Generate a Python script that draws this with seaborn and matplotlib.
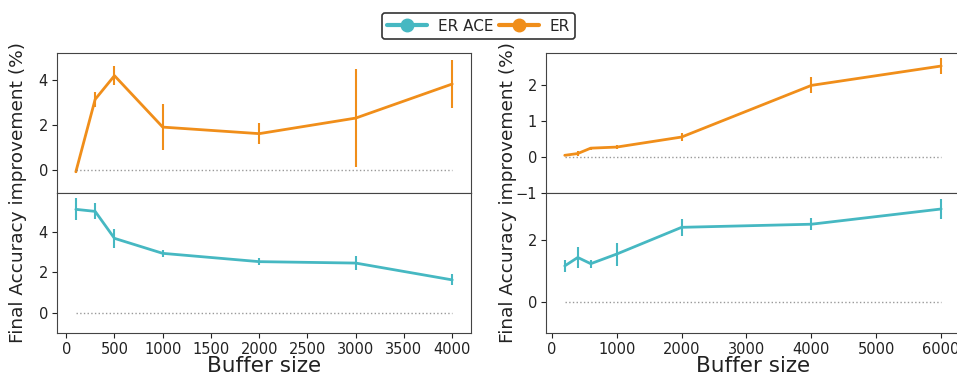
import numpy as np
import pandas as pd
import matplotlib
matplotlib.use("Agg")
import matplotlib.pyplot as plt
from matplotlib.lines import Line2D
import seaborn as sns

# left experiment
left_sizes = [100, 300, 500, 1000, 2000, 3000, 4000]
left_er = [-0.06, 3.15, 4.2, 1.92, 1.63, 2.32, 3.83]
left_er_err = [0.05, 0.32, 0.42, 1.02, 0.46, 2.18, 1.07]
left_ace = [5.1, 5.0, 3.67, 2.93, 2.52, 2.45, 1.62]
left_ace_err = [0.54, 0.39, 0.48, 0.17, 0.17, 0.33, 0.27]

# right experiment
right_sizes = [200, 400, 600, 1000, 2000, 4000, 6000]
right_er = [0.05, 0.1, 0.25, 0.28, 0.56, 2.0, 2.54]
right_er_err = [0.03, 0.06, 0.04, 0.05, 0.12, 0.22, 0.22]
right_ace = [1.16, 1.43, 1.23, 1.54, 2.4, 2.5, 2.99]
right_ace_err = [0.19, 0.33, 0.13, 0.37, 0.28, 0.2, 0.31]

ACE_COLOR = "#46b8c2"
ER_COLOR = "#f08e1a"

sns.set_style("ticks")
plt.rcParams['font.family'] = ['DejaVu Sans']

fig = plt.figure(figsize=(9.57, 3.74), dpi=100)


def draw_panel(ax, sizes, vals, errs, color):
    df = pd.DataFrame({"size": sizes, "val": vals})
    sns.lineplot(data=df, x="size", y="val", ax=ax, color=color, linewidth=2)
    ax.errorbar(sizes, vals, yerr=errs, fmt="none", ecolor=color, elinewidth=1.5)
    ax.plot([min(sizes), max(sizes)], [0, 0], linestyle=":", color="gray",
            linewidth=1, alpha=0.8)
    ax.set_xlabel("")
    ax.set_ylabel("")
    ax.tick_params(labelsize=10.5, length=3.5, pad=3, colors="#222222")
    for s in ax.spines.values():
        s.set_color("#444444")


def draw_column(left, sizes, er, er_err, ace, ace_err, ylim_top, ylim_bot, xticks):
    ax_top = fig.add_axes([left, 0.484, 0.4326, 0.374])
    ax_bot = fig.add_axes([left, 0.1096, 0.4326, 0.374], sharex=ax_top)
    draw_panel(ax_top, sizes, er, er_err, ER_COLOR)
    draw_panel(ax_bot, sizes, ace, ace_err, ACE_COLOR)
    ax_top.set_ylim(*ylim_top)
    ax_bot.set_ylim(*ylim_bot)
    ax_top.tick_params(axis="x", bottom=False, labelbottom=False)
    ax_bot.set_xticks(xticks)
    ax_bot.set_xlabel("Buffer size", fontsize=15.5, labelpad=-1, color="#222222")
    return ax_top, ax_bot


lt, lb = draw_column(0.0596, left_sizes, left_er, left_er_err, left_ace, left_ace_err,
                     (-1, 5.2), (-1, 5.9), list(range(0, 4001, 500)))
lt.set_yticks([0, 2, 4])
lb.set_yticks([0, 2, 4])

rt, rb = draw_column(0.5705, right_sizes, right_er, right_er_err, right_ace, right_ace_err,
                     (-1, 2.9), (-1, 3.5), list(range(0, 6001, 1000)))
rt.set_yticks([-1, 0, 1, 2])
rb.set_yticks([0, 2])

fig.text(0.019, 0.484, "Final Accuracy improvement (%)", rotation=90,
         ha="center", va="center", fontsize=13.3, color="#222222")
fig.text(0.531, 0.484, "Final Accuracy improvement (%)", rotation=90,
         ha="center", va="center", fontsize=13.3, color="#222222")

handles = [
    Line2D([], [], color=ACE_COLOR, linewidth=3, marker="o", markersize=9),
    Line2D([], [], color=ER_COLOR, linewidth=3, marker="o", markersize=9),
]
leg = fig.legend(handles, ["ER ACE", "ER"], loc="upper center", ncol=2,
                 bbox_to_anchor=(0.5, 0.985), fontsize=11, frameon=True,
                 handlelength=2.6, columnspacing=0.4, handletextpad=0.7,
                 borderpad=0.35)
leg.get_frame().set_edgecolor("black")
leg.get_frame().set_linewidth(1.2)

fig.savefig("out.png", dpi=100)
